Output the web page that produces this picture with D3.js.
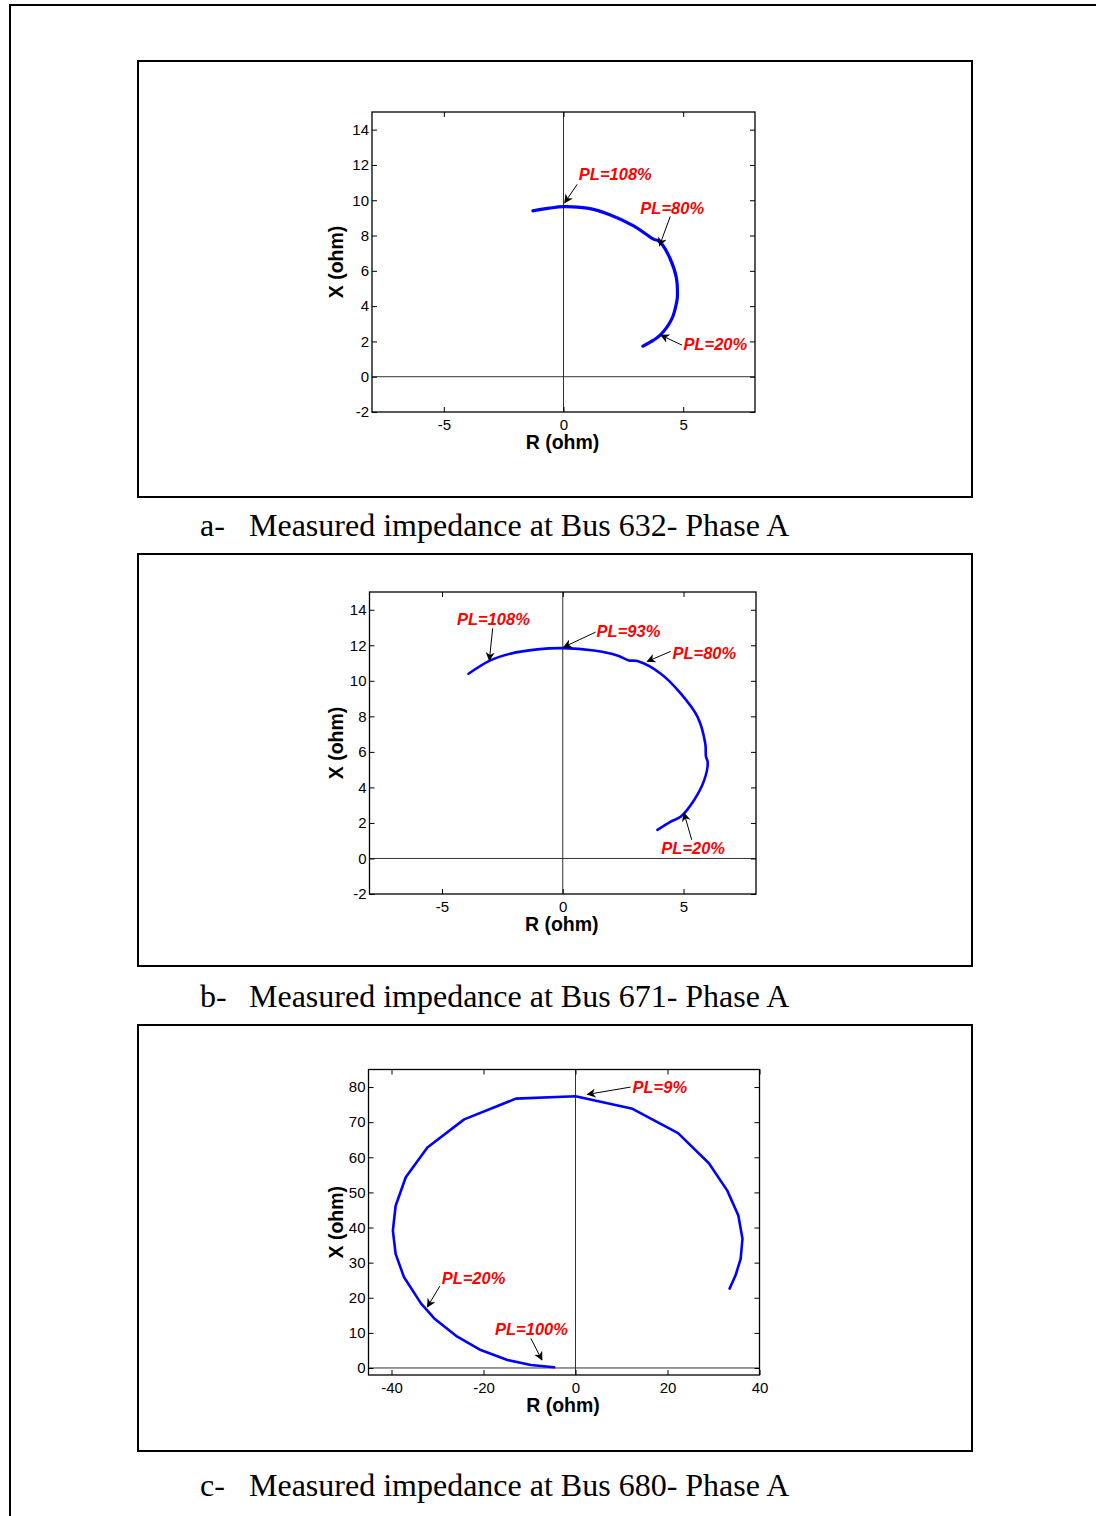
<!DOCTYPE html>
<html>
<head>
<meta charset="utf-8">
<script src="https://cdn.jsdelivr.net/npm/d3@7"></script>
<style>
  body { margin: 0; background: #fff; }
  svg { display: block; }
</style>
</head>
<body>
<div id="chart"></div>
<script>
// impedance trajectories (R, X in ohm)
var rA = [-1.28, -0.6, 0, 0.99, 1.96, 2.93, 3.76, 3.97, 4.11, 4.46, 4.71, 4.76, 4.74, 4.53, 4.04, 3.76, 3.32];
var xA = [9.40, 9.55, 9.64, 9.55, 9.17, 8.55, 7.80, 7.70, 7.52, 6.67, 5.64, 4.60, 4.32, 3.29, 2.35, 2.07, 1.73];

var rB = [-3.9, -3.0, -2.17, -1.06, 0, 1.29, 2.26, 2.74, 3.09, 4.06, 4.89, 5.58, 5.90, 5.93, 6.0, 5.86, 5.44, 4.89, 4.47, 3.92];
var xB = [10.4, 11.15, 11.53, 11.77, 11.84, 11.71, 11.43, 11.15, 11.11, 10.4, 9.28, 7.97, 6.47, 5.72, 5.44, 4.42, 3.29, 2.36, 2.08, 1.61];

var rC = [33.5, 34.8, 35.9, 36.3, 35.4, 33.0, 29.0, 22.3, 12.4, 0, -12.97, -24.2, -32.2, -36.9, -39.1, -39.7, -39.1, -37.3, -33.6, -30.7, -25.7, -20.6, -14.8, -9.7, -4.65];
var xC = [22.6, 26.4, 31.1, 36.8, 43.4, 50.5, 58.3, 66.9, 73.8, 77.4, 76.7, 70.8, 62.8, 54.3, 46.2, 39.1, 32.5, 25.9, 18.4, 14.1, 8.9, 5.1, 2.27, 0.85, 0.2];

// tick values
var ticksRab = [-5, 0, 5];
var ticksXab = [-2, 0, 2, 4, 6, 8, 10, 12, 14];
var ticksRc = [-40, -20, 0, 20, 40];
var ticksXc = [0, 10, 20, 30, 40, 50, 60, 70, 80];

// annotations: label, text anchor (R,X), arrow tail (R,X), arrow head (R,X)
var notesA = [
    ["PL=108%", 0.64, 11.47, 0.57, 10.9, 0.05, 9.86],
    ["PL=80%", 3.21, 9.58, 4.46, 9.08, 4.01, 7.42],
    ["PL=20%", 5.01, 1.83, 4.95, 1.79, 4.07, 2.35]
];
var notesB = [
    ["PL=108%", -4.38, 13.49, -2.9, 12.96, -3.04, 11.15],
    ["PL=93%", 1.4, 12.78, 1.36, 12.74, 0.04, 11.9],
    ["PL=80%", 4.54, 11.56, 4.47, 11.66, 3.5, 11.09],
    ["PL=20%", 4.08, 0.58, 5.34, 1.05, 5.02, 2.55]
];
var notesC = [
    ["PL=9%", 12.4, 80.0, 12.0, 80.0, 2.6, 77.9],
    ["PL=20%", -29.1, 25.6, -29.5, 23.3, -32.2, 17.4],
    ["PL=100%", -17.5, 11.0, -9.7, 8.4, -7.3, 2.3]
];

var captions = [
    ["a-", "Measured impedance at Bus 632- Phase A"],
    ["b-", "Measured impedance at Bus 671- Phase A"],
    ["c-", "Measured impedance at Bus 680- Phase A"]
];

var W = 1096, H = 1516;
var svg = d3.select("#chart").append("svg")
    .attr("width", W)
    .attr("height", H);

svg.append("defs").append("marker")
    .attr("id", "head")
    .attr("viewBox", "0 0 10 10")
    .attr("refX", 9)
    .attr("refY", 5)
    .attr("markerWidth", 9)
    .attr("markerHeight", 9)
    .attr("markerUnits", "userSpaceOnUse")
    .attr("orient", "auto")
    .append("path")
    .attr("d", "M0,0 L10,5 L0,10 L3,5 Z")
    .attr("fill", "#000");

// page frame (left and top edge only)
svg.append("path")
    .attr("d", "M10,1516 L10,5 L1096,5")
    .attr("fill", "none")
    .attr("stroke", "#000")
    .attr("stroke-width", 2);

var panels = [
    { box: [138, 61, 972, 497], plot: [372, 112, 755, 412], xd: [-8, 8], yd: [-2, 15],
      r: rA, x: xA, tr: ticksRab, tx: ticksXab, notes: notesA, lw: 3.2, smooth: true, cap: 536 },
    { box: [138, 554, 972, 966], plot: [369.5, 592, 756, 894], xd: [-8, 8], yd: [-2, 15],
      r: rB, x: xB, tr: ticksRab, tx: ticksXab, notes: notesB, lw: 2.6, smooth: true, cap: 1007 },
    { box: [138, 1025, 972, 1451], plot: [368.5, 1069.5, 759.5, 1375], xd: [-45, 40], yd: [-2, 85],
      r: rC, x: xC, tr: ticksRc, tx: ticksXc, notes: notesC, lw: 2.6, smooth: false, cap: 1496 }
];

var plain = function (d) { return String(d); };

panels.forEach(function (p, i) {
    var b = p.box, pl = p.plot;
    svg.append("rect")
        .attr("x", b[0]).attr("y", b[1])
        .attr("width", b[2] - b[0]).attr("height", b[3] - b[1])
        .attr("fill", "none").attr("stroke", "#000").attr("stroke-width", 2);

    var x = d3.scaleLinear().domain(p.xd).range([pl[0], pl[2]]);
    var y = d3.scaleLinear().domain(p.yd).range([pl[3], pl[1]]);
    var g = svg.append("g");

    // zero lines
    g.append("line")
        .attr("x1", x(0)).attr("x2", x(0)).attr("y1", pl[1]).attr("y2", pl[3])
        .attr("stroke", "#333").attr("stroke-width", 1);
    g.append("line")
        .attr("x1", pl[0]).attr("x2", pl[2]).attr("y1", y(0)).attr("y2", y(0))
        .attr("stroke", "#333").attr("stroke-width", 1);

    // axes: ticks inside on all four sides
    var tl = 5;
    var font = "Arial, 'Liberation Sans', sans-serif";
    g.append("g").attr("transform", "translate(0," + pl[3] + ")")
        .call(d3.axisBottom(x).tickValues(p.tr).tickSizeInner(-tl).tickSizeOuter(0).tickPadding(7).tickFormat(plain));
    g.append("g").attr("transform", "translate(0," + pl[1] + ")")
        .call(d3.axisTop(x).tickValues(p.tr).tickSizeInner(-tl).tickSizeOuter(0).tickFormat(""));
    g.append("g").attr("transform", "translate(" + pl[0] + ",0)")
        .call(d3.axisLeft(y).tickValues(p.tx).tickSizeInner(-tl).tickSizeOuter(0).tickPadding(3).tickFormat(plain));
    g.append("g").attr("transform", "translate(" + pl[2] + ",0)")
        .call(d3.axisRight(y).tickValues(p.tx).tickSizeInner(-tl).tickSizeOuter(0).tickFormat(""));
    g.selectAll(".domain").remove();
    g.selectAll(".tick line").attr("stroke", "#000");
    g.selectAll(".tick text")
        .attr("font-family", font).attr("font-size", 15).attr("fill", "#000");

    g.append("rect")
        .attr("x", pl[0]).attr("y", pl[1])
        .attr("width", pl[2] - pl[0]).attr("height", pl[3] - pl[1])
        .attr("fill", "none").attr("stroke", "#000").attr("stroke-width", 1.3);

    // trajectory
    var pts = p.r.map(function (d, k) { return [d, p.x[k]]; });
    var line = d3.line().x(function (d) { return x(d[0]); }).y(function (d) { return y(d[1]); });
    if (p.smooth) line.curve(d3.curveCatmullRom.alpha(0.5));
    g.append("path")
        .datum(pts)
        .attr("d", line)
        .attr("fill", "none")
        .attr("stroke", "#0000ff")
        .attr("stroke-width", p.lw)
        .attr("stroke-linejoin", "round")
        .attr("stroke-linecap", "round");

    // annotations
    p.notes.forEach(function (n) {
        g.append("line")
            .attr("x1", x(n[3])).attr("y1", y(n[4]))
            .attr("x2", x(n[5])).attr("y2", y(n[6]))
            .attr("stroke", "#000").attr("stroke-width", 1)
            .attr("marker-end", "url(#head)");
        g.append("text")
            .attr("x", x(n[1])).attr("y", y(n[2]))
            .attr("dy", "0.36em")
            .attr("font-family", font)
            .attr("font-size", 16.5)
            .attr("font-weight", "bold")
            .attr("font-style", "italic")
            .attr("fill", "#ff0000")
            .text(n[0]);
    });

    // axis titles
    g.append("text")
        .attr("x", (pl[0] + pl[2]) / 2 - 1).attr("y", pl[3] + 37)
        .attr("text-anchor", "middle")
        .attr("font-family", font).attr("font-size", 19.5).attr("font-weight", "bold")
        .text("R (ohm)");
    g.append("text")
        .attr("transform", "translate(" + 343 + "," + ((pl[1] + pl[3]) / 2) + ") rotate(-90)")
        .attr("text-anchor", "middle")
        .attr("font-family", font).attr("font-size", 19.5).attr("font-weight", "bold")
        .text("X (ohm)");

    // caption
    var serif = "'Times New Roman', 'Liberation Serif', serif";
    svg.append("text")
        .attr("x", 200).attr("y", p.cap)
        .attr("font-family", serif).attr("font-size", 32)
        .text(captions[i][0]);
    svg.append("text")
        .attr("x", 249).attr("y", p.cap)
        .attr("font-family", serif).attr("font-size", 32)
        .text(captions[i][1]);
});
</script>
</body>
</html>
